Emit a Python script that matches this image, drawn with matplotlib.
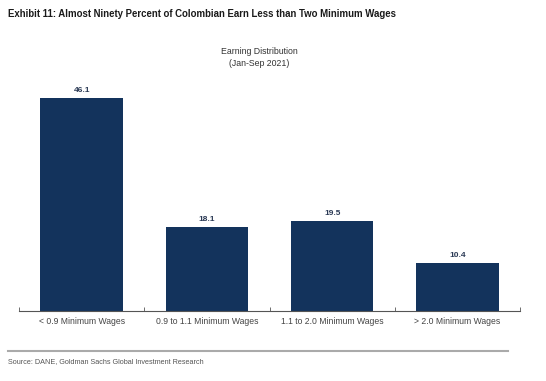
import matplotlib
matplotlib.use("Agg")
import matplotlib.pyplot as plt

categories = ["< 0.9 Minimum Wages", "0.9 to 1.1 Minimum Wages",
              "1.1 to 2.0 Minimum Wages", "> 2.0 Minimum Wages"]
shares = [46.1, 18.1, 19.5, 10.4]

navy = "#13335c"
plt.rcParams["font.family"] = ["Liberation Sans", "DejaVu Sans"]

fig = plt.figure(figsize=(5.46, 3.81), dpi=100)
ax = fig.add_axes([19/546, 1 - 311/381, 501/546, 231/381])

x = list(range(len(categories)))
bars = ax.bar(x, shares, width=0.66, color=navy)
for xi, v in zip(x, shares):
    ax.text(xi, v + 0.9, f"{v:.1f}", ha="center", va="bottom",
            fontsize=6, fontweight="bold", color="#2b3a55")

ax.set_xlim(-0.5, len(categories) - 0.5)
ax.set_ylim(0, 50)
ax.set_xticks(x)
ax.set_xticklabels(categories, fontsize=6.2, color="#444444")
ax.tick_params(axis="x", length=0, pad=4)
# boundary ticks between categories
ax.set_xticks([i - 0.5 for i in range(len(categories) + 1)], minor=True)
ax.tick_params(axis="x", which="minor", length=3, direction="in", color="#555555")
ax.set_yticks([])
for s in ["top", "right", "left"]:
    ax.spines[s].set_visible(False)
ax.spines["bottom"].set_color("#555555")
ax.spines["bottom"].set_linewidth(0.8)

title = fig.text(8/546, 1 - 14/381,
                 "Exhibit 11: Almost Ninety Percent of Colombian Earn Less than Two Minimum Wages",
                 fontsize=9, fontweight="bold", color="#1a1a1a", va="center")
fig.text(259/546, 1 - 52/381, "Earning Distribution", fontsize=6.3, ha="center", va="center", color="#333333")
fig.text(259/546, 1 - 64/381, "(Jan-Sep 2021)", fontsize=6.3, ha="center", va="center", color="#333333")

fig.add_artist(plt.Line2D([8/546, 508/546], [1 - 351/381] * 2, color="#aaaaaa", lw=1.5))
source = fig.text(8/546, 1 - 362/381, "Source: DANE, Goldman Sachs Global Investment Research",
                  fontsize=6, color="#555555", va="center")

# shrink the narrow-font texts to their width in the exhibit
r = fig.canvas.get_renderer()
for t, w in [(title, 392), (source, 198)]:
    cur = t.get_window_extent(r).width
    t.set_fontsize(t.get_fontsize() * w / cur)

fig.savefig("out.png", dpi=100)
